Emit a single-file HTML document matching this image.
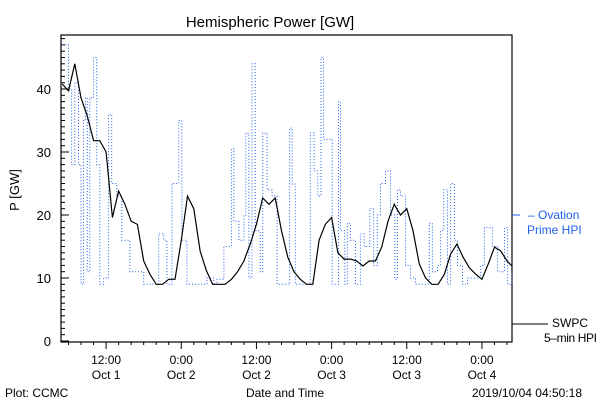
<!DOCTYPE html>
<html><head><meta charset="utf-8"><style>
body{margin:0;background:#fff}
svg{font-family:"Liberation Sans",sans-serif}
</style></head><body>
<svg id="c" width="600" height="400" viewBox="0 0 600 400">
<rect width="600" height="400" fill="#fff"/>
<text x="270" y="27" font-size="15" text-anchor="middle">Hemispheric Power [GW]</text>
<text transform="translate(19,190) rotate(-90)" font-size="13" text-anchor="middle">P [GW]</text>
<rect x="61" y="35" width="451" height="307" fill="none" stroke="#000" stroke-width="1.2"/>
<g id="ticks"></g>
<g id="series"></g>
<line x1="512" y1="215" x2="520" y2="215" stroke="#1f5fe8"/>
<text x="528" y="219" font-size="12" fill="#1f5fe8">– Ovation</text>
<text x="527" y="234" font-size="12" fill="#1f5fe8">Prime HPI</text>
<line x1="512" y1="324" x2="548" y2="324" stroke="#000"/>
<text x="552" y="327" font-size="12">SWPC</text>
<text x="544" y="342" font-size="12" textLength="53">5–min HPI</text>
<text x="5" y="397" font-size="12">Plot: CCMC</text>
<text x="285" y="397" font-size="12" text-anchor="middle">Date and Time</text>
<text x="582" y="397" font-size="12" text-anchor="end">2019/10/04 04:50:18</text>
</svg>
<script>
const yTicks=[0,10,20,30,40];
const xTickHours=[12,24,36,48,60,72];
const xTickTimes=["12:00","0:00","12:00","0:00","12:00","0:00"];
const xTickDays=["Oct 1","Oct 2","Oct 2","Oct 3","Oct 3","Oct 4"];
const swpcHours=[5,6,7,8,9,10,11,12,13,14,15,16,17,18,19,20,21,22,23,24,25,26,27,28,29,30,31,32,33,34,35,36,37,38,39,40,41,42,43,44,45,46,47,48,49,50,51,52,53,54,55,56,57,58,59,60,61,62,63,64,65,66,67,68,69,70,71,72,73,74,75,76,76.8];
const swpcValues=[40.8,39.7,44,38.6,35.7,31.8,31.8,30,19.6,23.8,21.7,19,18.5,12.7,10.6,9,9,9.8,9.8,16,23,21,14.3,11.2,9,9,9,9.8,11,12.7,15.4,18.5,22.7,21.7,22.7,17.5,13.3,11,9.8,9,9,16,18.5,19.6,14,13,13,12.7,11.9,12.7,12.7,14.9,19,21.7,20,21,17.5,12.2,10,9,9,10.6,13.8,15.4,13.3,11.6,10.6,9.8,12.2,14.9,14.3,12.7,11.9];
const ovHours=[5,6,6.5,7,7.6,8,8.4,8.7,9,9.4,10,10.5,11,11.6,12.1,12.4,12.9,13.7,14.5,15.8,16.9,18,19,20.4,21.2,21.7,22.5,23.2,23.6,24.1,24.9,26.5,28.1,29.2,29.7,30.8,31.6,32,32.4,33.2,34,34.3,34.8,35.3,35.8,36.6,37,37.7,38.5,39.3,40.4,41.3,41.7,42.2,43.3,44.3,44.6,45.2,45.8,46.3,46.7,47.6,48.1,48.6,49.1,49.4,50.1,50.5,51,51.8,52.6,53.2,54.1,54.7,55.3,55.8,56.6,57.4,58.1,58.5,59,59.8,60.6,61.4,63.3,63.6,64.1,64.9,65.4,65.9,66.5,67,67.6,68.1,68.9,69.7,70.5,71.3,71.8,72.4,73.2,73.7,74.5,75.6,76.1,76.8];
const ovValues=[47,40,28,41,28,9,35,38.6,11,38.6,45,28,9,10,10,36,25,23,16,11,11,9,9,17,16,9,25,25,35,16,9,9,10,9,9.8,15,15,30.5,19,16,20,33,10,44,17.5,11,33,24,23,9,9,33.8,24.9,9,9,9,33,27,23,45,32,32,9,9,38,17.5,9,18.7,16,9,17,15,21,12,20,25,27,20,9.8,24,23,12,10,9,9,18.7,11,12,17.5,24,9,25,16,12,9,10,10,10,12,18,18,15,11,18,9,11];
const NS="http://www.w3.org/2000/svg";
const X0=61,X1=512,H0=4.8,H1=76.8,Y0=341,YS=6.3;
function xs(h){return X0+(h-H0)*(X1-X0)/(H1-H0);}
function ys(v){return Y0-v*YS;}
const tg=document.getElementById('ticks'),sg=document.getElementById('series');
function mk(tag,at,parent){const e=document.createElementNS(NS,tag);for(const k in at)e.setAttribute(k,at[k]);parent.appendChild(e);return e;}
for(let v=0;v<=48;v++){
 const y=ys(v),L=(v%10===0)?8:4;
 const t=mk('line',{x1:X0,x2:X0+L,y1:y,y2:y,stroke:'#000'},tg);
 
 
}
yTicks.forEach(v=>{
 const t=mk('text',{x:X0-10,y:ys(v)+5,'font-size':13,'text-anchor':'end'},tg);
 t.textContent=v;
 
 
});
for(let h=6;h<=H1;h+=2){
 const x=xs(h),L=(h%12===0)?7:3;
 const t=mk('line',{x1:x,x2:x,y1:342,y2:342+L,stroke:'#000'},tg);
 
 
}
xTickHours.forEach((h,i)=>{
 const a=mk('text',{x:xs(h),y:364,'font-size':12,'text-anchor':'middle'},tg);
 a.textContent=xTickTimes[i];
 
 
 const b=mk('text',{x:xs(h),y:379,'font-size':12,'text-anchor':'middle'},tg);
 b.textContent=xTickDays[i];
 
 
});
function stepPath(hs,vs){let d='';for(let i=0;i<hs.length;i++){const x=xs(hs[i]).toFixed(1),y=ys(vs[i]).toFixed(1);d+=(i?`H${x}V${y}`:`M${x},${y}`);}return d;}
function linePath(hs,vs){return hs.map((h,i)=>(i?'L':'M')+xs(h).toFixed(1)+','+ys(vs[i]).toFixed(1)).join('');}
const ov=mk('path',{d:stepPath(ovHours,ovValues),fill:'none',stroke:'#1f5fe8','stroke-width':1,'stroke-dasharray':'1 2'},sg);


const sw=mk('path',{d:linePath(swpcHours,swpcValues),fill:'none',stroke:'#000','stroke-width':1.2},sg);


</script>
</body></html>
